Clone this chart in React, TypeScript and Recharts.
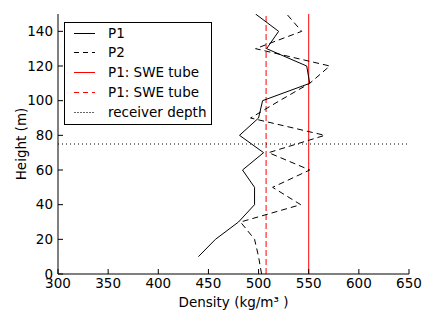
import React from "react"
import { ComposedChart, Line, XAxis, YAxis, ReferenceLine } from "recharts"

// Density profiles (kg/m^3) against height (m)
const heightsP1 = [10, 20, 30, 40, 50, 60, 70, 80, 90, 100, 110, 120, 130, 140, 150]
const densityP1 = [440, 457, 480, 496, 496, 484, 505, 481, 500, 504, 551, 548, 508, 520, 497]

const heightsP2 = [0, 10, 20, 30, 40, 50, 60, 70, 80, 90, 100, 110, 120, 130, 140, 150]
const densityP2 = [503, 500, 496, 482, 542, 514, 551, 510, 566, 492, 521, 551, 571, 497, 543, 528]

const sweTubeP1 = 550
const sweTubeP2 = 507.5
const receiverDepth = 75

const xTicks = [300, 350, 400, 450, 500, 550, 600, 650]
const yTicks = [0, 20, 40, 60, 80, 100, 120, 140]

const legendItems = [
  { label: "P1", color: "#000", dash: undefined },
  { label: "P2", color: "#000", dash: "5 4" },
  { label: "P1: SWE tube", color: "#ff0000", dash: undefined },
  { label: "P1: SWE tube", color: "#ff0000", dash: "5 4" },
  { label: "receiver depth", color: "#000", dash: "2 1" },
]

const FONT = "DejaVu Sans"
const FS = 13.5

const p1 = heightsP1.map((h, i) => ({ d: densityP1[i], h }))
const p2 = heightsP2.map((h, i) => ({ d: densityP2[i], h }))

function LegendBox() {
  return (
    <div
      style={{
        position: "absolute",
        left: 64,
        top: 22,
        width: 146,
        height: 101,
        border: "1px solid #000",
        background: "#fff",
        fontFamily: FONT,
        fontSize: FS,
        color: "#000",
      }}
    >
      {legendItems.map((item, i) => (
        <div key={i} style={{ position: "absolute", left: 0, top: Math.round(1.5 + i * 19.8), height: 16, width: 146 }}>
          <svg width={30} height={16} style={{ position: "absolute", left: 0, top: 0 }}>
            <line
              x1={9}
              x2={30}
              y1={8.5}
              y2={8.5}
              stroke={item.color}
              strokeWidth={1}
              strokeOpacity={item.label === "receiver depth" ? 0.6 : 1}
              strokeDasharray={item.dash}
            />
          </svg>
          <span style={{ position: "absolute", left: 43, top: 0, lineHeight: "16px", whiteSpace: "nowrap" }}>
            {item.label}
          </span>
        </div>
      ))}
    </div>
  )
}

export default function App() {
  const tickStyle = { fontFamily: FONT, fontSize: FS, fill: "#000" }
  return (
    <div style={{ position: "absolute", left: 0, top: 0, width: 436, height: 327, background: "#fff" }}>
      <ComposedChart width={436} height={327} margin={{ top: 14, right: 27, bottom: 0, left: 0 }}>
        <XAxis
          xAxisId="bottom"
          dataKey="d"
          type="number"
          domain={[300, 650]}
          ticks={xTicks}
          allowDataOverflow
          height={53}
          tickSize={-5}
          tickMargin={9}
          stroke="#000"
          tick={tickStyle}
          tickLine={{ stroke: "#000" }}
          label={{ value: "Density (kg/m³ )", position: "center", dy: 2, style: { fontFamily: FONT, fontSize: FS, fill: "#000" } }}
        />
        <XAxis
          xAxisId="top"
          orientation="top"
          dataKey="d"
          type="number"
          domain={[300, 650]}
          ticks={xTicks}
          allowDataOverflow
          height={0}
          tickSize={-5}
          tick={false}
          stroke="#000"
        />
        <YAxis
          yAxisId="left"
          type="number"
          domain={[0, 150]}
          ticks={yTicks}
          allowDataOverflow
          width={58}
          tickSize={-5}
          tickMargin={10}
          stroke="#000"
          tick={tickStyle}
          label={{ value: "Height (m)", angle: -90, position: "center", dx: -8, style: { fontFamily: FONT, fontSize: FS, fill: "#000" } }}
        />
        <YAxis
          yAxisId="right"
          orientation="right"
          type="number"
          domain={[0, 150]}
          ticks={yTicks}
          allowDataOverflow
          width={0}
          tickSize={-5}
          tick={false}
          stroke="#000"
        />
        <ReferenceLine xAxisId="bottom" yAxisId="left" x={sweTubeP1} stroke="#ff0000" strokeWidth={1} />
        <ReferenceLine xAxisId="bottom" yAxisId="left" x={sweTubeP2} stroke="#ff0000" strokeWidth={1} strokeDasharray="6 3" />
        <ReferenceLine xAxisId="bottom" yAxisId="left" y={receiverDepth} stroke="#000" strokeWidth={1} strokeDasharray="1 3" />
        <Line
          xAxisId="bottom"
          yAxisId="left"
          data={p1}
          dataKey="h"
          type="linear"
          stroke="#000"
          strokeWidth={1}
          dot={false}
          isAnimationActive={false}
        />
        <Line
          xAxisId="bottom"
          yAxisId="left"
          data={p2}
          dataKey="h"
          type="linear"
          stroke="#000"
          strokeWidth={1}
          strokeDasharray="6 4"
          dot={false}
          isAnimationActive={false}
        />
      </ComposedChart>
      <LegendBox />
    </div>
  )
}
